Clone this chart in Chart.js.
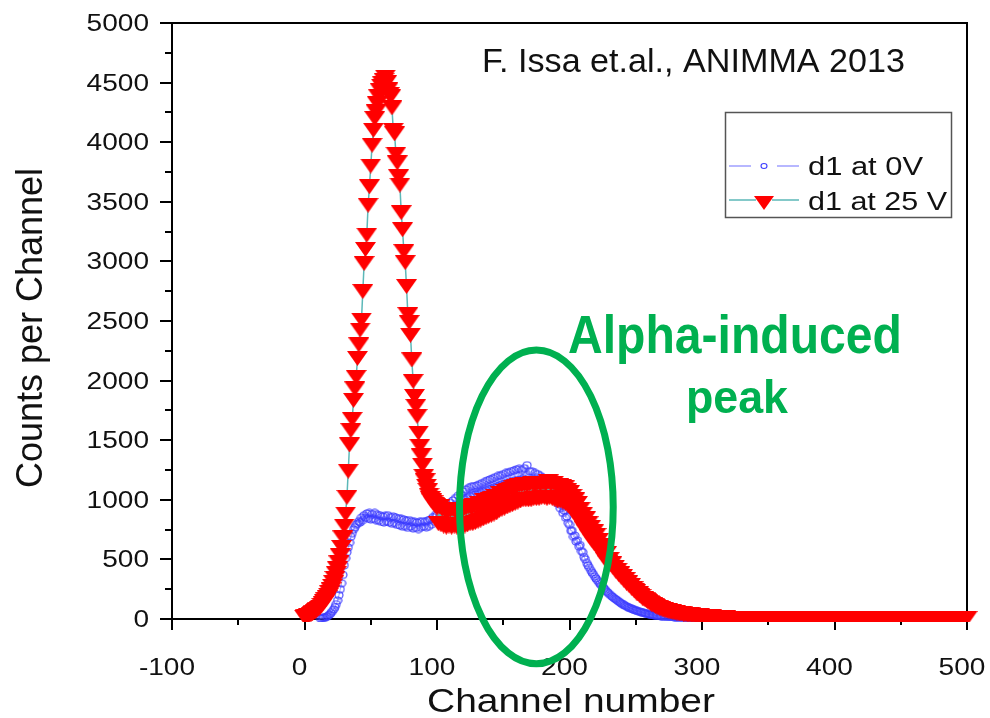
<!DOCTYPE html>
<html>
<head>
<meta charset="utf-8">
<title>d1 spectra at 0 V and 25 V</title>
<script src="https://cdn.jsdelivr.net/npm/chart.js@4.4.1/dist/chart.umd.min.js"></script>
<style>
  html, body { margin: 0; padding: 0; background: #fff; }
  #wrap { width: 990px; height: 718px; }
</style>
</head>
<body>
<div id="wrap"><canvas id="chart" width="990" height="718"></canvas></div>
<script>
// d1 at 25 V : counts per channel, first value is channel 0
const redStart = 0;
const redCounts = [
  15, 18, 22, 27, 32, 38, 45, 52, 60, 70,
  80, 90, 100, 115, 130, 145, 160, 180, 200, 220,
  245, 275, 305, 340, 380, 420, 470, 530, 600, 680,
  780, 880, 1020, 1240, 1460, 1580, 1675, 1834, 1930, 2027,
  2186, 2300, 2424, 2508, 2747, 2982, 3100, 3220, 3471, 3626,
  3800, 3974, 4100, 4198, 4255, 4322, 4380, 4435, 4470, 4489,
  4520, 4546, 4500, 4440, 4400, 4380, 4288, 4100, 4070, 3900,
  3827, 3710, 3640, 3409, 3266, 3082, 2990, 2789, 2554, 2487,
  2380, 2173, 1993, 1867, 1784, 1700, 1560, 1449, 1370, 1290,
  1198, 1160, 1114, 1080, 1039, 1010, 990, 975, 960, 950,
  930, 800, 940, 790, 920, 780, 910, 770, 900, 780,
  910, 770, 920, 780, 900, 770, 920, 790, 910, 780,
  920, 780, 930, 790, 940, 800, 930, 800, 950, 810,
  950, 820, 970, 830, 960, 840, 990, 850, 980, 860,
  1000, 870, 1010, 880, 1030, 890, 1020, 910, 1050, 920,
  1040, 930, 1070, 940, 1080, 950, 1090, 960, 1100, 970,
  1110, 980, 1120, 990, 1120, 1000, 1130, 1000, 1120, 1000,
  1130, 1000, 1140, 1010, 1120, 1010, 1140, 1010, 1130, 1020,
  1140, 1020, 1130, 1010, 1150, 1020, 1130, 1010, 1140, 1000,
  1120, 990, 1120, 990, 1110, 980, 1100, 970, 1080, 950,
  1060, 930, 1030, 900, 1000, 870, 970, 840, 920, 800,
  880, 760, 840, 730, 800, 690, 770, 660, 730, 630,
  700, 610, 660, 570, 620, 540, 590, 500, 550, 470,
  500, 460, 465, 430, 435, 400, 410, 375, 380, 350,
  355, 325, 330, 300, 305, 280, 280, 255, 255, 235,
  230, 210, 210, 195, 190, 175, 170, 160, 155, 145,
  140, 130, 125, 118, 112, 105, 100, 95, 90, 86,
  82, 78, 75, 72, 68, 65, 62, 60, 57, 55,
  53, 50, 48, 46, 44, 42, 41, 39, 38, 36,
  35, 34, 33, 31, 30, 29, 28, 27, 26, 25,
  25, 24, 22, 21, 20, 19, 18, 17, 16, 15,
  14, 13, 12, 12, 11, 10, 10, 9, 9, 8,
  8, 7, 7, 7, 6, 6, 6, 5, 5, 5,
  4, 5, 4, 3, 5, 4, 4, 5, 3, 4,
  5, 4, 3, 4, 5, 4, 4, 3, 5, 4,
  4, 5, 4, 3, 4, 4, 5, 4, 3, 4,
  5, 4, 4, 3, 4, 5, 4, 3, 4, 4,
  3, 4, 5, 4, 4, 3, 4, 4, 5, 3,
  4, 4, 3, 5, 4, 4, 3, 4, 4, 5,
  3, 4, 4, 4, 3, 5, 4, 3, 4, 4,
  4, 3, 4, 5, 4, 3, 4, 4, 3, 4,
  5, 4, 3, 4, 4, 3, 4, 5, 4, 3,
  4, 4, 3, 4, 4, 5, 3, 4, 4, 3,
  4, 3, 4, 4, 5, 4, 3, 4, 3, 4,
  4, 3, 4, 4, 3, 4, 4, 3, 5, 4,
  3, 4, 4, 3, 4, 4, 3, 4, 4, 3,
  4, 3, 4, 4, 3, 4, 3, 4, 4, 3,
  4, 4, 3, 4, 3, 4, 4, 3, 4, 3,
  4, 3, 4, 4, 3, 4, 3, 4, 3, 4,
  4, 3, 3, 4, 4, 3, 4, 3, 4, 3,
  4
];

// d1 at 0 V : counts per channel, first value is channel 12
const blueStart = 12;
const blueCounts = [
  5, 8, 10, 12, 15, 20, 28, 38,
  50, 65, 80, 100, 125, 155, 200, 250, 300, 370,
  450, 510, 560, 600, 640, 690, 720, 750, 770, 790,
  800, 820, 810, 850, 830, 870, 850, 885, 845, 890,
  835, 880, 840, 890, 830, 875, 825, 870, 815, 860,
  810, 865, 820, 870, 810, 855, 800, 860, 805, 850,
  790, 845, 785, 840, 775, 835, 780, 825, 765, 830,
  775, 820, 760, 815, 765, 810, 755, 815, 770, 820,
  775, 815, 770, 825, 780, 835, 795, 855, 815, 875,
  870, 830, 900, 845, 920, 860, 935, 880, 955, 895,
  975, 910, 995, 930, 1015, 945, 1035, 965, 1050, 980,
  1070, 1000, 1085, 1015, 1100, 1030, 1110, 1040, 1115, 1045,
  1120, 1050, 1130, 1060, 1140, 1070, 1150, 1080, 1160, 1090,
  1170, 1095, 1180, 1105, 1190, 1110, 1200, 1120, 1205, 1130,
  1215, 1135, 1225, 1140, 1230, 1150, 1240, 1155, 1245, 1160,
  1255, 1165, 1260, 1170, 1250, 1175, 1265, 1170, 1290, 1165,
  1240, 1160, 1235, 1150, 1225, 1140, 1215, 1130, 1200, 1115,
  1185, 1100, 1165, 1080, 1140, 1055, 1110, 1030, 1080, 1000,
  1040, 970, 1000, 930, 955, 890, 910, 850, 860, 805,
  790, 740, 740, 690, 700, 650, 660, 610, 620, 570,
  560, 520, 500, 470, 450, 430, 410, 390, 375, 355,
  340, 325, 310, 295, 282, 270, 258, 245, 232, 220,
  210, 200, 190, 182, 172, 165, 157, 148, 140, 132,
  125, 118, 112, 106, 100, 95, 90, 86, 80, 76,
  72, 68, 65, 62, 58, 55, 52, 48, 45, 42,
  40, 38, 36, 34, 32, 30, 29, 28, 26, 25,
  24, 23, 22, 21, 20, 19, 18, 18, 17, 16,
  16, 15, 14, 14, 13, 13, 12, 12, 11, 11,
  10, 10, 9, 9, 8, 8, 8, 7, 7, 7,
  6
];

const seriesNames = ['d1 at 0V', 'd1 at 25 V'];
const xTickValues = [-100, 0, 100, 200, 300, 400, 500];
const xMinorValues = [-50, 50, 150, 250, 350, 450];
const yTickValues = [0, 500, 1000, 1500, 2000, 2500, 3000, 3500, 4000, 4500, 5000];
const yMinorValues = [250, 750, 1250, 1750, 2250, 2750, 3250, 3750, 4250, 4750];

// annotation ring around the alpha peak, in channel / count units
const ringCenter = [175, 940];
const ringRadius = [58, 1316];

const FONT = '"Liberation Sans", Arial, sans-serif';
const GREEN = '#00b050';
const RED = '#ff0000';
const TEAL = '#5cb8b8';
const BLUE = '#3c3cff';
const LAVENDER = '#a0a0ff';

// Origin's symbols come out a bit wide in the source picture, so use small images
function makeTriangle(w, h) {
    const c = document.createElement('canvas');
    c.width = w; c.height = h;
    const g = c.getContext('2d');
    g.fillStyle = RED;
    g.beginPath();
    g.moveTo(0, 0); g.lineTo(w, 0); g.lineTo(w / 2, h); g.closePath();
    g.fill();
    return c;
}

function makeRing(w, h) {
    const c = document.createElement('canvas');
    c.width = w; c.height = h;
    const g = c.getContext('2d');
    g.strokeStyle = BLUE;
    g.lineWidth = 1.1;
    g.beginPath();
    g.ellipse(w / 2, h / 2, w / 2 - 1, h / 2 - 1, 0, 0, Math.PI * 2);
    g.stroke();
    return c;
}

function toPoints(start, counts) {
    return counts.map((v, i) => ({ x: start + i, y: v }));
}

// draw text squeezed/stretched to a given width (source picture is not 1:1)
function drawText(ctx, text, x, y, font, sx, align, color) {
    ctx.save();
    ctx.font = font;
    ctx.fillStyle = color || '#111';
    ctx.textAlign = align || 'left';
    ctx.textBaseline = 'alphabetic';
    ctx.translate(x, y);
    ctx.scale(sx, 1);
    ctx.fillText(text, 0, 0);
    ctx.restore();
}

function fitScale(ctx, text, font, width) {
    ctx.save();
    ctx.font = font;
    const w = ctx.measureText(text).width;
    ctx.restore();
    return width / w;
}

const TICK_STRETCH = 1.22;

const frame = {
    id: 'frame',
    beforeDatasetsDraw(chart) {
        const { ctx, chartArea: a, scales: { x, y } } = chart;
        ctx.save();
        ctx.strokeStyle = '#000';
        ctx.lineWidth = 2;
        ctx.beginPath();
        xMinorValues.forEach(v => {
            const px = Math.round(x.getPixelForValue(v));
            ctx.moveTo(px, a.bottom + 1); ctx.lineTo(px, a.bottom + 6);
        });
        yMinorValues.forEach(v => {
            const py = Math.round(y.getPixelForValue(v));
            ctx.moveTo(a.left - 1, py); ctx.lineTo(a.left - 7, py);
        });
        ctx.moveTo(a.left - 1, a.top); ctx.lineTo(a.right + 1, a.top);
        ctx.moveTo(a.right, a.top); ctx.lineTo(a.right, a.bottom + 1);
        ctx.stroke();
        ctx.restore();

        const tickFont = '23px ' + FONT;
        x.ticks.forEach(t => {
            drawText(ctx, String(t.value), x.getPixelForValue(t.value) - 5, 675, tickFont, TICK_STRETCH, 'center');
        });
        y.ticks.forEach(t => {
            drawText(ctx, String(t.value), 149, y.getPixelForValue(t.value) + 8, tickFont, TICK_STRETCH, 'right');
        });
    },

    afterDraw(chart) {
        const { ctx, scales: { x, y } } = chart;

        // axis titles
        const tFont = '36px ' + FONT;
        ctx.save();
        ctx.translate(42, 328);
        ctx.rotate(-Math.PI / 2);
        drawText(ctx, 'Counts per Channel', 0, 0, tFont, fitScale(ctx, 'Counts per Channel', tFont, 320), 'center');
        ctx.restore();
        const xFont = '34px ' + FONT;
        drawText(ctx, 'Channel number', 571, 712, xFont, fitScale(ctx, 'Channel number', xFont, 288), 'center');

        // citation
        const cFont = '34px ' + FONT;
        drawText(ctx, 'F. Issa et.al., ANIMMA 2013', 482, 72, cFont, fitScale(ctx, 'F. Issa et.al., ANIMMA 2013', cFont, 423), 'left');

        // green ring + label
        const cx = x.getPixelForValue(ringCenter[0]);
        const cy = y.getPixelForValue(ringCenter[1]);
        const rx = x.getPixelForValue(ringCenter[0] + ringRadius[0]) - cx;
        const ry = cy - y.getPixelForValue(ringCenter[1] + ringRadius[1]);
        ctx.save();
        ctx.strokeStyle = GREEN;
        ctx.lineWidth = 7;
        ctx.beginPath();
        ctx.ellipse(cx, cy, rx, ry, 0, 0, Math.PI * 2);
        ctx.stroke();
        ctx.restore();
        const a1 = 'bold 54px ' + FONT;
        const a2 = 'bold 46px ' + FONT;
        drawText(ctx, 'Alpha-induced', 735, 353, a1, fitScale(ctx, 'Alpha-induced', a1, 334), 'center', GREEN);
        drawText(ctx, 'peak', 737, 413, a2, fitScale(ctx, 'peak', a2, 102), 'center', GREEN);

        // legend box
        ctx.save();
        ctx.strokeStyle = '#555';
        ctx.lineWidth = 1.5;
        ctx.strokeRect(725.5, 112.5, 226, 105);

        ctx.lineWidth = 1.5;
        ctx.strokeStyle = LAVENDER;
        ctx.beginPath();
        ctx.moveTo(729, 166); ctx.lineTo(751, 166);
        ctx.moveTo(777, 166); ctx.lineTo(799, 166);
        ctx.stroke();
        ctx.strokeStyle = BLUE;
        ctx.lineWidth = 1.1;
        ctx.beginPath();
        ctx.ellipse(764, 166, 3, 2.5, 0, 0, Math.PI * 2);
        ctx.stroke();

        ctx.strokeStyle = TEAL;
        ctx.lineWidth = 1.5;
        ctx.beginPath();
        ctx.moveTo(729, 200); ctx.lineTo(756, 200);
        ctx.moveTo(772, 200); ctx.lineTo(799, 200);
        ctx.stroke();
        ctx.fillStyle = RED;
        ctx.beginPath();
        ctx.moveTo(754, 196); ctx.lineTo(774, 196); ctx.lineTo(764, 210); ctx.closePath();
        ctx.fill();
        ctx.restore();

        const lFont = '25px ' + FONT;
        drawText(ctx, seriesNames[0], 808, 175, lFont, fitScale(ctx, seriesNames[0], lFont, 115), 'left');
        drawText(ctx, seriesNames[1], 808, 210, lFont, fitScale(ctx, seriesNames[1], lFont, 139), 'left');
    }
};

const triangleImg = makeTriangle(21, 15);
const ringImg = makeRing(10, 9);

new Chart(document.getElementById('chart'), {
    type: 'scatter',
    data: {
        datasets: [
            {
                label: seriesNames[1],
                data: toPoints(redStart, redCounts),
                showLine: true,
                borderColor: TEAL,
                borderWidth: 1.5,
                pointStyle: triangleImg,
                pointRadius: 10,
                clip: { left: false, top: false, right: false, bottom: 3 }
            },
            {
                label: seriesNames[0],
                data: toPoints(blueStart, blueCounts),
                showLine: true,
                borderColor: LAVENDER,
                borderWidth: 1,
                pointStyle: ringImg,
                pointRadius: 5,
                clip: { left: false, top: false, right: false, bottom: 3 }
            }
        ]
    },
    options: {
        responsive: false,
        devicePixelRatio: 1,
        animation: false,
        events: [],
        layout: { padding: { top: 23, right: 23, left: 0, bottom: 0 } },
        plugins: { legend: { display: false }, tooltip: { enabled: false } },
        scales: {
            x: {
                type: 'linear',
                min: -100,
                max: 500,
                afterBuildTicks: s => { s.ticks = xTickValues.map(v => ({ value: v })); },
                afterFit: s => { s.height = 99; },
                ticks: { display: false },
                grid: { drawOnChartArea: false, color: '#000', lineWidth: 2, tickLength: 11 },
                border: { display: true, color: '#000', width: 2 }
            },
            y: {
                type: 'linear',
                min: 0,
                max: 5000,
                afterBuildTicks: s => { s.ticks = yTickValues.map(v => ({ value: v })); },
                afterFit: s => { s.width = 172; },
                ticks: { display: false },
                grid: { drawOnChartArea: false, color: '#000', lineWidth: 2, tickLength: 12 },
                border: { display: true, color: '#000', width: 2 }
            }
        }
    },
    plugins: [frame]
});
</script>
</body>
</html>
